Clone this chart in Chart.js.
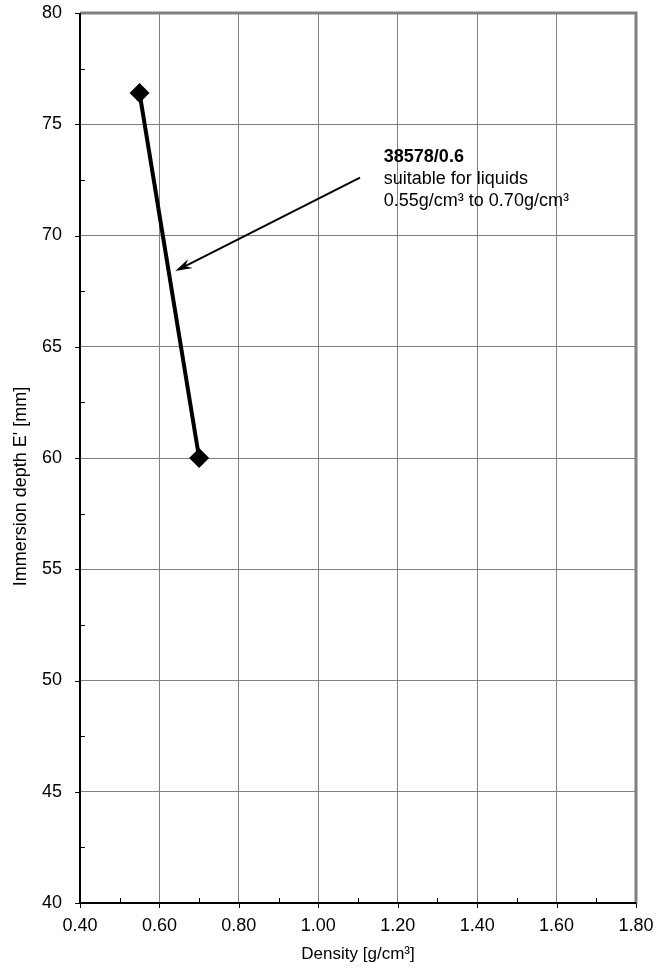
<!DOCTYPE html>
<html>
<head>
<meta charset="utf-8">
<script src="https://cdn.jsdelivr.net/npm/chart.js@4.4.0/dist/chart.umd.min.js"></script>
<style>
    html, body { margin: 0; padding: 0; background: #ffffff; }
    #wrap { width: 667px; height: 971px; position: relative; }
</style>
</head>
<body>
<div id="wrap"><canvas id="densityChart"></canvas></div>
<script>
// Data
const densities = [0.55, 0.70];
const depths = [76.4, 60.0];
const xTicks = [0.40, 0.60, 0.80, 1.00, 1.20, 1.40, 1.60, 1.80];
const yTicks = [40, 45, 50, 55, 60, 65, 70, 75, 80];

// Annotation (in data units)
const noteLines = ['38578/0.6', 'suitable for liquids', '0.55g/cm³ to 0.70g/cm³'];
const notePos = { x: 1.165, y: 73.3 };
const arrowFrom = { x: 1.105, y: 72.6 };
const arrowTo = { x: 0.64, y: 68.4 };
const yTitle = "Immersion depth E' [mm]";

const FONT = '"Liberation Sans", Arial, sans-serif';

// Frame, tick marks, y title and the annotation
const framePlugin = {
    id: 'frame',
    afterDraw(chart) {
        const ctx = chart.ctx;
        const a = chart.chartArea;
        const xs = chart.scales.x;
        const ys = chart.scales.y;
        ctx.save();

        // top and right border (grey)
        ctx.strokeStyle = '#808080';
        ctx.lineWidth = 3;
        ctx.beginPath();
        ctx.moveTo(a.left, a.top);
        ctx.lineTo(a.right, a.top);
        ctx.lineTo(a.right, a.bottom);
        ctx.stroke();

        // left and bottom axis (black)
        ctx.strokeStyle = '#000000';
        ctx.lineWidth = 2;
        ctx.beginPath();
        ctx.moveTo(a.left, a.top);
        ctx.lineTo(a.left, a.bottom);
        ctx.lineTo(a.right, a.bottom);
        ctx.stroke();

        // tick marks: major outside, minor inside
        ctx.lineWidth = 1;
        ctx.beginPath();
        for (let v = 40; v <= 80.001; v += 2.5) {
            const py = Math.round(ys.getPixelForValue(v)) + 0.5;
            const major = Math.abs(v % 5) < 0.001;
            ctx.moveTo(a.left, py);
            ctx.lineTo(major ? a.left - 5 : a.left + 5, py);
        }
        for (let v = 0.4; v <= 1.8001; v += 0.1) {
            const px = Math.round(xs.getPixelForValue(v)) + 0.5;
            const major = Math.round(v * 10) % 2 === 0;
            ctx.moveTo(px, a.bottom);
            ctx.lineTo(px, major ? a.bottom + 5 : a.bottom - 5);
        }
        ctx.stroke();

        // y axis title, centred on the whole picture height
        ctx.fillStyle = '#000000';
        ctx.font = '18px ' + FONT;
        ctx.textAlign = 'center';
        ctx.textBaseline = 'middle';
        ctx.save();
        ctx.translate(21, chart.height / 2 + 1);
        ctx.rotate(-Math.PI / 2);
        ctx.fillText(yTitle, 0, 0);
        ctx.restore();

        // arrow
        const x1 = xs.getPixelForValue(arrowFrom.x), y1 = ys.getPixelForValue(arrowFrom.y);
        const x2 = xs.getPixelForValue(arrowTo.x), y2 = ys.getPixelForValue(arrowTo.y);
        const ang = Math.atan2(y2 - y1, x2 - x1);
        const len = 17, half = 5;
        ctx.lineWidth = 2;
        ctx.beginPath();
        ctx.moveTo(x1, y1);
        ctx.lineTo(x2 - Math.cos(ang) * 10, y2 - Math.sin(ang) * 10);
        ctx.stroke();
        ctx.beginPath();
        ctx.moveTo(x2, y2);
        ctx.lineTo(x2 - Math.cos(ang) * len - Math.sin(ang) * half, y2 - Math.sin(ang) * len + Math.cos(ang) * half);
        ctx.lineTo(x2 - Math.cos(ang) * 11, y2 - Math.sin(ang) * 11);
        ctx.lineTo(x2 - Math.cos(ang) * len + Math.sin(ang) * half, y2 - Math.sin(ang) * len - Math.cos(ang) * half);
        ctx.closePath();
        ctx.fill();

        // note text
        const tx = xs.getPixelForValue(notePos.x);
        const ty = ys.getPixelForValue(notePos.y);
        ctx.textAlign = 'left';
        ctx.textBaseline = 'alphabetic';
        noteLines.forEach(function(line, i) {
            ctx.font = (i === 0 ? 'bold ' : '') + '18px ' + FONT;
            ctx.fillText(line, tx, ty + i * 22);
        });
        ctx.restore();
    }
};

document.addEventListener('DOMContentLoaded', function() {
    const canvas = document.getElementById('densityChart');
    canvas.width = 667;
    canvas.height = 971;

    new Chart(canvas, {
        type: 'scatter',
        data: {
            datasets: [{
                data: densities.map(function(d, i) { return { x: d, y: depths[i] }; }),
                showLine: true,
                borderColor: '#000000',
                borderWidth: 4,
                pointStyle: 'rectRot',
                pointRadius: 10,
                pointHoverRadius: 10,
                pointBackgroundColor: '#000000',
                pointBorderColor: '#000000',
                pointBorderWidth: 0
            }]
        },
        options: {
            responsive: false,
            animation: false,
            devicePixelRatio: 1,
            layout: { padding: { top: 13, right: 31, bottom: 6, left: 0 } },
            plugins: {
                legend: { display: false },
                tooltip: { enabled: false }
            },
            scales: {
                x: {
                    type: 'linear',
                    min: 0.4,
                    max: 1.8,
                    afterBuildTicks: function(scale) {
                        scale.ticks = xTicks.map(function(v) { return { value: v }; });
                    },
                    afterFit: function(scale) {
                        scale.height = 62;
                        scale.paddingLeft = 0;
                        scale.paddingRight = 0;
                    },
                    grid: { color: '#808080', lineWidth: 1, drawTicks: false },
                    border: { display: false },
                    ticks: {
                        color: '#000000',
                        padding: 12,
                        maxRotation: 0,
                        font: { family: FONT, size: 18 },
                        callback: function(v) { return v.toFixed(2); }
                    },
                    title: {
                        display: true,
                        text: 'Density [g/cm³]',
                        color: '#000000',
                        padding: { top: 2, bottom: 0 },
                        font: { family: FONT, size: 17 }
                    }
                },
                y: {
                    min: 40,
                    max: 80,
                    afterBuildTicks: function(scale) {
                        scale.ticks = yTicks.map(function(v) { return { value: v }; });
                    },
                    afterFit: function(scale) {
                        scale.width = 80;
                        scale.paddingTop = 0;
                        scale.paddingBottom = 0;
                    },
                    grid: { color: '#808080', lineWidth: 1, drawTicks: false },
                    border: { display: false },
                    ticks: {
                        color: '#000000',
                        padding: 18,
                        font: { family: FONT, size: 18 }
                    },
                    title: { display: false }
                }
            }
        },
        plugins: [framePlugin]
    });
});
</script>
</body>
</html>
